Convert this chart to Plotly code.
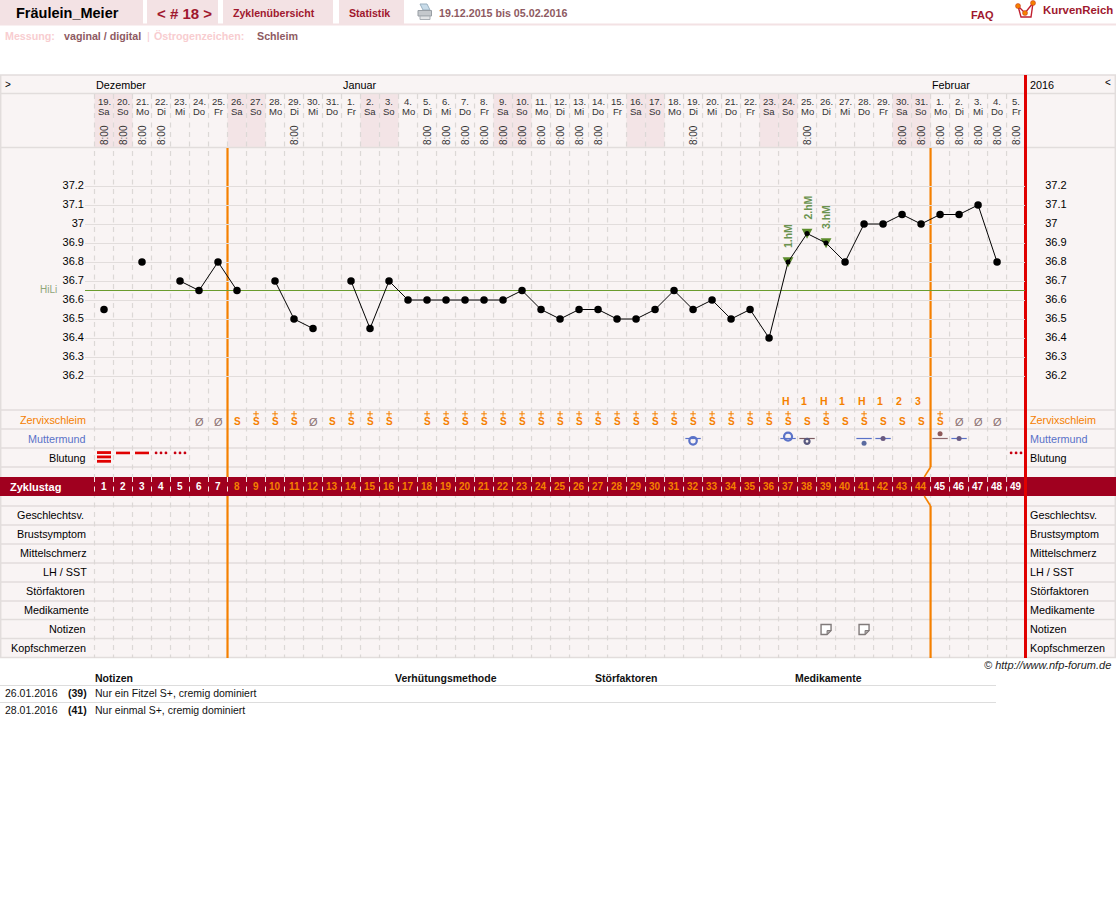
import plotly.graph_objects as go

WIDTH, HEIGHT = 1116, 917
FONT = "Liberation Sans"

# ---- cycle data ----
CYCLE_DAYS = list(range(1, 50))
DATE_NUMBERS = [19, 20, 21, 22, 23, 24, 25, 26, 27, 28, 29, 30, 31,
                1, 2, 3, 4, 5, 6, 7, 8, 9, 10, 11, 12, 13, 14, 15, 16, 17, 18, 19, 20,
                21, 22, 23, 24, 25, 26, 27, 28, 29, 30, 31,
                1, 2, 3, 4, 5]
WEEKDAYS = ["Sa", "So", "Mo", "Di", "Mi", "Do", "Fr"] * 7
MEASURED_DAYS = [1, 2, 3, 4, 11, 18, 19, 20, 21, 22, 23, 24, 25, 26, 27, 32, 38,
                 43, 44, 45, 46, 47, 48, 49]
MEASURE_TIME = "8:00"
TEMPERATURES = [36.55, None, 36.8, None, 36.7, 36.65, 36.8, 36.65, None, 36.7,
                36.5, 36.45, None, 36.7, 36.45, 36.7, 36.6, 36.6, 36.6, 36.6,
                36.6, 36.6, 36.65, 36.55, 36.5, 36.55, 36.55, 36.5, 36.5, 36.55,
                36.65, 36.55, 36.6, 36.5, 36.55, 36.4, 36.8, 36.95, 36.9, 36.8,
                37.0, 37.0, 37.05, 37.0, 37.05, 37.05, 37.1, 36.8, None]
TEMP_TICKS = [36.2, 36.3, 36.4, 36.5, 36.6, 36.7, 36.8, 36.9, 37.0, 37.1, 37.2]
TEMP_TICK_LABELS = ["36.2", "36.3", "36.4", "36.5", "36.6", "36.7", "36.8", "36.9", "37", "37.1", "37.2"]
COVER_LINE = 36.65
PEAK_DAYS = [37, 38, 39]
PEAK_LABELS = ["1.hM", "2.hM", "3.hM"]
PEAK_COUNT_DAYS = [37, 38, 39, 40, 41, 42, 43, 44]
PEAK_COUNT_LABELS = ["H", "1", "H", "1", "H", "1", "2", "3"]
MUCUS_PLUS_DAYS = [9, 10, 11, 14, 15, 16] + list(range(18, 38)) + [39, 41, 45]
MUCUS_S_DAYS = [8, 13, 38, 40, 42, 43, 44]
MUCUS_DRY_DAYS = [6, 7, 12, 46, 47, 48]
CERVIX_RING_DAYS = [32, 37, 38]
CERVIX_RING_LEVELS = [0.12, -0.1, 0.15]
CERVIX_DOT_DAYS = [41, 42, 45, 46]
CERVIX_DOT_LEVELS = [0.25, 0.0, -0.25, 0.0]
HEAVY_BLEEDING_DAYS = [1]
NORMAL_BLEEDING_DAYS = [2, 3]
LIGHT_BLEEDING_DAYS = [4, 5, 49]
NOTE_DAYS = [39, 41]
UPPER_ROWS = ["Zervixschleim", "Muttermund", "Blutung"]
LOWER_ROWS = ["Geschlechtsv.", "Brustsymptom", "Mittelschmerz", "LH / SST",
              "Störfaktoren", "Medikamente", "Notizen", "Kopfschmerzen"]
MONTH_LABELS = ["Dezember", "Januar", "Februar"]
MONTH_FIRST_DAYS = [1, 14, 45]
POSTOVULATORY_START = 8
NEXT_PHASE_START = 45
NOTE_DATES = ["26.01.2016", "28.01.2016"]
NOTE_CYCLE_DAYS = ["(39)", "(41)"]
NOTE_TEXTS = ["Nur ein Fitzel S+, cremig dominiert", "Nur einmal S+, cremig dominiert"]
TABLE_HEADS = ["Notizen", "Verhütungsmethode", "Störfaktoren", "Medikamente"]

# ---- colours ----
PANEL = "#F9F4F4"
WEEKEND = "#F3E4E6"
TAB = "#F3E2E4"
GRID = "#E2DDDC"
DASH = "#DCD8D6"
BAND = "#A0001F"
WINE = "#A0182E"
ORANGE = "#F58000"
RED = "#E00000"
BLUE = "#5A72C8"
GREEN = "#6B9C2E"
DULL = "#8E5A62"
PALE = "#F8CDD0"


def px_x(x):
    return x / WIDTH


def px_y(y):
    return 1 - y / HEIGHT


shapes = []
annotations = []


def page_rect(x0, y0, x1, y1, fill, line=None, width=0, kind="rect"):
    shapes.append(dict(type=kind, xref="paper", yref="paper", x0=px_x(x0), x1=px_x(x1),
                       y0=px_y(y0), y1=px_y(y1), fillcolor=fill, layer="below",
                       line=dict(color=line or fill, width=width)))


def page_line(x0, y0, x1, y1, color, width=1):
    shapes.append(dict(type="line", xref="paper", yref="paper", x0=px_x(x0), x1=px_x(x1),
                       y0=px_y(y0), y1=px_y(y1), layer="below", line=dict(color=color, width=width)))


def day_line(day, y0, y1, color, width=1, dash="solid"):
    shapes.append(dict(type="line", xref="x", yref="paper", x0=day, x1=day,
                       y0=px_y(y0), y1=px_y(y1), layer="below",
                       line=dict(color=color, width=width, dash=dash)))


def label(x, y, text, size=11, color="#000000", anchor="left", angle=0, xref="paper", xshift=0):
    annotations.append(dict(x=px_x(x) if xref == "paper" else x, y=px_y(y), xref=xref, yref="paper",
                            text=text, showarrow=False, xanchor=anchor, yanchor="middle",
                            textangle=angle, borderpad=0, borderwidth=0, xshift=xshift,
                            font=dict(family=FONT, size=size, color=color)))


# ---- page header ----
page_rect(0, 0, 143, 24, TAB)
page_rect(147, 0, 218, 24, TAB)
page_rect(223, 0, 333, 24, TAB)
page_rect(339, 0, 404, 24, TAB)
page_line(0, 24.5, WIDTH, 24.5, TAB, 2)
label(16, 13, "<b>Fräulein_Meier</b>", 14.5)
label(157, 13, "<b>&lt; # 18 &gt;</b>", 15, WINE)
label(233, 13, "<b>Zyklenübersicht</b>", 10.6, WINE)
label(349, 13, "<b>Statistik</b>", 10.6, WINE)
label(439, 13, "<b>19.12.2015 bis 05.02.2016</b>", 10.7, DULL)
label(971, 15, "<b>FAQ</b>", 11, WINE)
label(1043, 10.5, "<b>KurvenReich</b>", 11.4, WINE)

# printer icon
shapes.append(dict(type="path", xref="paper", yref="paper", layer="below",
                   path=f"M {px_x(420)},{px_y(4)} L {px_x(427)},{px_y(4)} L {px_x(430)},{px_y(10)} L {px_x(423)},{px_y(10)} Z",
                   fillcolor="#C8DCEA", line=dict(color="#9AB0C0", width=1)))
page_rect(418, 10.5, 431.5, 16, "#C4C8CC", "#989EA4", 1)
page_rect(420, 16, 430, 19.5, "#E2E4E6", "#A8AEB4", 1)

# logo
shapes.append(dict(type="path", xref="paper", yref="paper", layer="below",
                   path=f"M {px_x(1018)},{px_y(6)} L {px_x(1021)},{px_y(17)} L {px_x(1031)},{px_y(17)} L {px_x(1033)},{px_y(3)} "
                        f"M {px_x(1018)},{px_y(6)} L {px_x(1025)},{px_y(13)} L {px_x(1033)},{px_y(3)}",
                   line=dict(color="#C02030", width=1.4)))
for lx, ly in ((1018, 6), (1025, 13), (1033, 3)):
    page_rect(lx - 2.5, ly - 2.5, lx + 2.5, ly + 2.5, ORANGE, "#C03020", 0.5, "circle")

label(5, 36, "<b>Messung:</b>", 10.7, PALE)
label(64, 36, "<b>vaginal / digital</b>", 10.7, DULL)
label(147, 36, "|", 11, PALE)
label(154, 36, "<b>Östrogenzeichen:</b>", 10.7, PALE)
label(257, 36, "<b>Schleim</b>", 10.7, DULL)

# ---- chart panel and row rules ----
page_rect(0, 75, WIDTH, 658, PANEL)
for day in CYCLE_DAYS:
    if WEEKDAYS[day - 1] in ("Sa", "So"):
        shapes.append(dict(type="rect", xref="x", yref="paper", x0=day - 0.5, x1=day + 0.5,
                           y0=px_y(94), y1=px_y(147.5), fillcolor=WEEKEND, layer="below", line=dict(width=0)))
for y in (75, 93.5, 147.5, 410, 429, 448, 467, 506, 525, 544, 563, 582, 601, 619.5, 638.5, 657.5):
    page_line(0, y, WIDTH, y, GRID, 1.5)
page_line(0.7, 75, 0.7, 658, GRID, 1.5)
page_line(1115.3, 75, 1115.3, 658, GRID, 1.5)
for k in range(0, 49):
    day_line(k + 0.5, 94, 658, DASH, 1.2, "5px,4.5px")

# cycle-day band
page_rect(0, 477, WIDTH, 496, BAND)
for k in range(0, 49):
    day_line(k + 0.5, 477, 496, "#F4E4E4", 1, "5px,4.5px")

# phase markers: the second one jogs around the band
day_line(POSTOVULATORY_START - 0.5, 148, 477, ORANGE, 2.2)
day_line(POSTOVULATORY_START - 0.5, 496, 658, ORANGE, 2.2)
day_line(NEXT_PHASE_START - 0.5, 148, 467, ORANGE, 2.2)
day_line(NEXT_PHASE_START - 0.5, 506, 658, ORANGE, 2.2)
for y0, y1 in ((467, 477), (506, 496)):
    shapes.append(dict(type="line", xref="x", yref="paper", x0=NEXT_PHASE_START - 0.5,
                       x1=NEXT_PHASE_START - 0.83, y0=px_y(y0), y1=px_y(y1), layer="below",
                       line=dict(color=ORANGE, width=1.6)))
page_line(1025.5, 75, 1025.5, 658, RED, 3)

# ---- month row and day headers ----
label(5, 84, "&gt;", 10)
for name, first in zip(MONTH_LABELS, MONTH_FIRST_DAYS):
    label(first - 0.42, 85, name, 10.8, xref="x")
label(1030, 85, "2016", 10.8)
label(1105, 83, "&lt;", 10)

for day, number, weekday in zip(CYCLE_DAYS, DATE_NUMBERS, WEEKDAYS):
    label(day, 101, f"{number}.", 9.5, "#333333", "center", xref="x")
    label(day, 111, weekday, 9.5, "#333333", "center", xref="x")
for day in MEASURED_DAYS:
    label(day, 135, MEASURE_TIME, 10, "#333333", "center", -90, xref="x")

# ---- row titles ----
row_colors = {"Zervixschleim": ORANGE, "Muttermund": BLUE}
lower_right_edges = {"Geschlechtsv.": 83.5, "Mittelschmerz": 87, "LH / SST": 87, "Störfaktoren": 85,
                     "Medikamente": 89}
for i, name in enumerate(UPPER_ROWS):
    y = 419.5 + 19 * i
    label(86, y, name, 10.8, row_colors.get(name, "#000000"), "right")
    label(1030, y, name, 10.8, row_colors.get(name, "#000000"))
for i, name in enumerate(LOWER_ROWS):
    y = 515 + 19 * i
    label(lower_right_edges.get(name, 86), y, name, 10.8, "#000000", "right")
    label(1030, y, name, 10.8)
label(10, 486.5, "<b>Zyklustag</b>", 11, "#FFFFFF")
label(40, 290, "HiLi", 10, "#8FA678")

# ---- cycle-day numbers ----
for day in CYCLE_DAYS:
    color = ORANGE if POSTOVULATORY_START <= day < NEXT_PHASE_START else "#FFFFFF"
    label(day, 486.5, f"<b>{day}</b>", 10, color, "center", xref="x")

# ---- peak counting and temperature-rise labels ----
for day, text in zip(PEAK_COUNT_DAYS, PEAK_COUNT_LABELS):
    label(day, 401, f"<b>{text}</b>", 10.5, ORANGE, "left", xref="x", xshift=-6)
for day, text in zip(PEAK_DAYS, PEAK_LABELS):
    annotations.append(dict(x=day, y=TEMPERATURES[day - 1], xref="x", yref="y", text=f"<b>{text}</b>",
                            showarrow=False, textangle=-90, yanchor="bottom", xanchor="center", yshift=12,
                            font=dict(family=FONT, size=10.5, color="#6B9350")))
    # downward triangle behind the temperature point
    shapes.append(dict(type="path", xref="x", yref="y", xsizemode="pixel", ysizemode="pixel",
                       xanchor=day, yanchor=TEMPERATURES[day - 1], layer="below",
                       path="M -5.4,4.7 L 5.4,4.7 L 0,-5.2 Z", fillcolor="#5C8C2C", line=dict(width=0)))

# ---- cervical mucus letters ----
for day in MUCUS_S_DAYS + MUCUS_PLUS_DAYS:
    annotations.append(dict(x=day, y=0, xref="x", yref="y2", text="<b>S</b>", showarrow=False, yshift=-2,
                            xanchor="center", yanchor="middle", font=dict(family=FONT, size=10, color=ORANGE)))
for day in MUCUS_DRY_DAYS:
    annotations.append(dict(x=day, y=0, xref="x", yref="y2", text="Ø", showarrow=False, yshift=-2,
                            xanchor="center", yanchor="middle", font=dict(family=FONT, size=11, color="#8C7272")))

# ---- note icons ----
for day in NOTE_DAYS:
    shapes.append(dict(type="path", xref="x", yref="y4", xsizemode="pixel", ysizemode="pixel",
                       xanchor=day, yanchor=6, layer="above",
                       path="M -5,5 L 5,5 L 5,-1 L 1,-5 L -5,-5 Z",
                       fillcolor="#FFFFFF", line=dict(color="#807A7A", width=1.4)))
    shapes.append(dict(type="path", xref="x", yref="y4", xsizemode="pixel", ysizemode="pixel",
                       xanchor=day, yanchor=6, layer="above",
                       path="M 5,-1 L 1,-1 L 1,-5 Z",
                       fillcolor="#B0ACAC", line=dict(color="#807A7A", width=1)))

fig = go.Figure()

# temperature axis items
fig.add_trace(go.Scatter(x=[0, 49.47], y=[COVER_LINE, COVER_LINE], mode="lines", hoverinfo="skip",
                         line=dict(color=GREEN, width=1), showlegend=False))
fig.add_trace(go.Scatter(x=CYCLE_DAYS, y=TEMPERATURES, mode="lines+markers", connectgaps=False,
                         line=dict(color="#000000", width=1),
                         marker=dict(color="#000000", opacity=1, line=dict(width=0),
                                     size=[5 if d in PEAK_DAYS else 7.5 for d in CYCLE_DAYS]),
                         showlegend=False))
# same values on the mirrored axis, so its tick labels are drawn on the right
fig.add_trace(go.Scatter(x=CYCLE_DAYS, y=TEMPERATURES, mode="markers", yaxis="y5",
                         marker=dict(opacity=0), hoverinfo="skip", showlegend=False))

# mucus plus signs
fig.add_trace(go.Scatter(x=MUCUS_PLUS_DAYS, y=[-0.3] * len(MUCUS_PLUS_DAYS), yaxis="y2", mode="markers",
                         marker=dict(symbol="cross-thin", size=4, color=ORANGE, line=dict(color=ORANGE, width=1)),
                         hoverinfo="skip", showlegend=False))

# cervix bars, rings and dots
cervix_days = CERVIX_RING_DAYS + CERVIX_DOT_DAYS
bar_colors = [BLUE, BLUE, "#7A5A60", BLUE, BLUE, "#8E6A6E", BLUE]
fig.add_trace(go.Scatter(x=cervix_days, y=[1] * len(cervix_days), yaxis="y2", mode="markers",
                         marker=dict(symbol="line-ew", size=11, line=dict(color=bar_colors, width=1.2)),
                         hoverinfo="skip", showlegend=False))
fig.add_trace(go.Scatter(x=CERVIX_RING_DAYS, y=[1 + v for v in CERVIX_RING_LEVELS], yaxis="y2", mode="markers",
                         marker=dict(symbol="circle-open", size=[7.5, 8, 5], color=[BLUE, BLUE, "#5A5A80"],
                                     opacity=1, line=dict(width=2.2)),
                         hoverinfo="skip", showlegend=False))
fig.add_trace(go.Scatter(x=CERVIX_DOT_DAYS, y=[1 + v for v in CERVIX_DOT_LEVELS], yaxis="y2", mode="markers",
                         marker=dict(symbol="circle", size=5, color=["#5A6AA0", "#6A5A80", "#8E5A5A", "#6A5A80"]),
                         hoverinfo="skip", showlegend=False))

# bleeding marks
heavy_x = [d for d in HEAVY_BLEEDING_DAYS for _ in range(3)]
heavy_y = [2 + v for _ in HEAVY_BLEEDING_DAYS for v in (-0.26, -0.03, 0.2)]
fig.add_trace(go.Scatter(x=heavy_x, y=heavy_y, yaxis="y2", mode="markers",
                         marker=dict(symbol="line-ew", size=10, line=dict(color=RED, width=2.8)),
                         hoverinfo="skip", showlegend=False))
fig.add_trace(go.Scatter(x=NORMAL_BLEEDING_DAYS, y=[1.76] * len(NORMAL_BLEEDING_DAYS), yaxis="y2", mode="markers",
                         marker=dict(symbol="line-ew", size=10, line=dict(color=RED, width=2.6)),
                         hoverinfo="skip", showlegend=False))
light_x = [d + v for d in LIGHT_BLEEDING_DAYS for v in (-0.26, 0, 0.26)]
fig.add_trace(go.Scatter(x=light_x, y=[1.76] * len(light_x), yaxis="y2", mode="markers",
                         marker=dict(symbol="circle", size=2.8, color="#C80010"),
                         hoverinfo="skip", showlegend=False))

# ---- footer ----
label(1111, 665, "<i>© http://www.nfp-forum.de</i>", 11, "#222222", "right")
for name, x in zip(TABLE_HEADS, (95, 395, 595, 795)):
    label(x, 678, f"<b>{name}</b>", 10.5, "#111111")
page_line(0, 685.5, 996, 685.5, "#DDDDDD", 1)
page_line(0, 702.5, 996, 702.5, "#DDDDDD", 1)
for i, (date, cday, text) in enumerate(zip(NOTE_DATES, NOTE_CYCLE_DAYS, NOTE_TEXTS)):
    y = 693 + 17 * i
    label(5, y, date, 10.5, "#111111")
    label(68, y, f"<b>{cday}</b>", 10.5, "#111111")
    label(95, y, text, 10.5, "#111111")

temp_range = [37.2 - (410 - 186) / 190, 37.2 + (186 - 148) / 190]
temp_domain = [px_y(410), px_y(148)]

fig.update_layout(
    width=WIDTH, height=HEIGHT, margin=dict(l=0, r=0, t=0, b=0),
    paper_bgcolor="#FFFFFF", plot_bgcolor="rgba(0,0,0,0)",
    font=dict(family=FONT, size=11, color="#000000"),
    showlegend=False, shapes=shapes, annotations=annotations, hovermode="closest",
    xaxis=dict(domain=[px_x(85), px_x(1025)], range=[0, 49.47], visible=False, fixedrange=True),
    yaxis=dict(domain=temp_domain, range=temp_range, tickmode="array", tickvals=TEMP_TICKS,
               ticktext=TEMP_TICK_LABELS, showgrid=True, gridcolor=GRID, gridwidth=1.2,
               zeroline=False, showline=False, ticks="", ticklen=0, ticklabelshift=-1,
               tickfont=dict(family=FONT, size=11, color="#000000"), fixedrange=True),
    yaxis5=dict(domain=temp_domain, range=temp_range, overlaying="y", side="right", anchor="x",
                tickmode="array", tickvals=TEMP_TICKS, ticktext=TEMP_TICK_LABELS, showgrid=False,
                zeroline=False, showline=False, ticks="outside", ticklen=17, tickcolor="rgba(0,0,0,0)",
                ticklabelshift=-1,
                tickfont=dict(family=FONT, size=11, color="#000000"), fixedrange=True),
    yaxis2=dict(domain=[px_y(467), px_y(410)], range=[2.5, -0.5], visible=False, anchor="x", fixedrange=True),
    yaxis4=dict(domain=[px_y(658), px_y(506)], range=[7.5, -0.5], visible=False, anchor="x", fixedrange=True),
)

fig.write_html("out.html")
